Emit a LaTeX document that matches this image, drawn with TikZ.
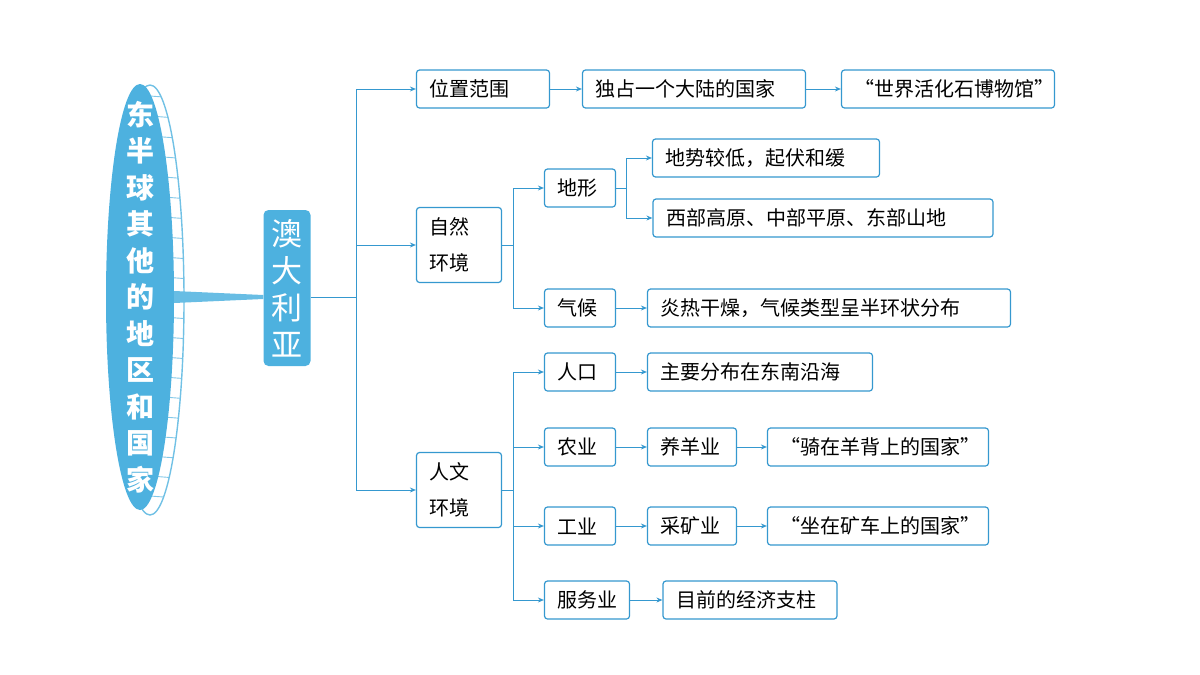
\documentclass[tikz,border=0pt]{standalone}
\usepackage{fontspec}
\setmainfont{Noto Sans CJK SC}
\usetikzlibrary{arrows.meta,positioning,calc,shapes.geometric}
\definecolor{skyblue}{HTML}{4DB1DF}
\definecolor{lineblue}{HTML}{3598CF}
\begin{document}
\begin{tikzpicture}[
    x=1pt, y=-1pt,
    box/.style={draw=lineblue, line width=1.2pt, rounded corners=3pt, fill=white, font=\fontsize{20}{24}\selectfont, align=left, inner xsep=13pt, inner ysep=0pt, minimum height=38pt, text width=#1-26pt},
    tallbox/.style={box=#1, minimum height=75pt, font=\fontsize{20}{36}\selectfont},
    link/.style={draw=lineblue, line width=0.9pt, -{Stealth[length=6pt,width=5pt]}},
    trunk/.style={draw=lineblue, line width=0.9pt},
    >=Stealth
]
    \useasboundingbox (0,0) rectangle (1200,675);

    % Left title ellipse
    \begin{scope}
      \clip (150,300) ellipse [x radius=34, y radius=215];
      \fill[white] (100,80) rectangle (200,520);
      \foreach \yy in {96,116,...,520} \draw[skyblue!70, line width=0.9pt] (150,\yy) -- (190,\yy+3);
    \end{scope}
    \draw[skyblue!80, line width=1.4pt] (150,300) ellipse [x radius=34, y radius=215];
    \node[ellipse, fill=skyblue, minimum width=68pt, minimum height=426pt, inner sep=0pt] (title) at (140,297) {};
    \node[text=white, font=\fontsize{28}{36.5}\selectfont\bfseries, align=center] at (title.center)
      {东\\半\\球\\其\\他\\的\\地\\区\\和\\国\\家};

    % Australia
    \node[fill=skyblue, rounded corners=5pt, minimum width=47pt, minimum height=156pt, inner sep=0pt,
          text=white, font=\fontsize{31}{37}\selectfont, align=center] (aus) at (287,288) {澳\\大\\利\\亚};
    \fill[skyblue!85] (title.east |- 0,291) -- (aus.west |- 0,295) -- (aus.west |- 0,299) -- (title.east |- 0,303) -- cycle;

    % Level 1
    \node[box=133pt] (pos) at (483,89) {位置范围};
    \node[tallbox=85pt] (nat) at (459,245) {自然\\环境};
    \node[tallbox=85pt] (hum) at (459,490) {人文\\环境};

    % Position
    \node[box=223pt] (cont) at (694,89) {独占一个大陆的国家};
    \node[box=213pt] (fossil) at (948,89) {“世界活化石博物馆”};

    % Nature
    \node[box=71pt] (terr) at (580,188) {地形};
    \node[box=71pt] (clim) at (580,308) {气候};
    \node[box=227pt] (low) at (766,158) {地势较低，起伏和缓};
    \node[box=340pt] (west) at (823,218) {西部高原、中部平原、东部山地};
    \node[box=363pt] (dry) at (829,308) {炎热干燥，气候类型呈半环状分布};

    % Human
    \node[box=71pt] (pop) at (580,372) {人口};
    \node[box=71pt] (agr) at (580,447) {农业};
    \node[box=71pt] (ind) at (580,526) {工业};
    \node[box=85pt] (srv) at (587,600) {服务业};
    \node[box=225pt] (coast) at (760,372) {主要分布在东南沿海};
    \node[box=89pt] (sheep) at (692,447) {养羊业};
    \node[box=221pt] (ride) at (878,447) {“骑在羊背上的国家”};
    \node[box=89pt] (mine) at (692,526) {采矿业};
    \node[box=221pt] (cart) at (878,526) {“坐在矿车上的国家”};
    \node[box=174pt] (pill) at (750,600) {目前的经济支柱};

    % Branch points
    \coordinate (j0) at (356,297);
    \coordinate (j1) at (513,245);
    \coordinate (j2) at (513,490);
    \coordinate (j3) at (626,188);

    % Edges
    \draw[trunk] (aus.east |- j0) -- (j0);
    \draw[link] (j0) |- (pos.west);
    \draw[link] (j0) |- (nat.west);
    \draw[link] (j0) |- (hum.west);
    \draw[link] (pos) -- (cont);
    \draw[link] (cont) -- (fossil);

    \draw[trunk] (nat.east) -- (j1);
    \draw[link] (j1) |- (terr.west);
    \draw[link] (j1) |- (clim.west);
    \draw[trunk] (terr.east) -- (j3);
    \draw[link] (j3) |- (low.west);
    \draw[link] (j3) |- (west.west);
    \draw[link] (clim) -- (dry);

    \draw[trunk] (hum.east) -- (j2);
    \draw[link] (j2) |- (pop.west);
    \draw[link] (j2) |- (agr.west);
    \draw[link] (j2) |- (ind.west);
    \draw[link] (j2) |- (srv.west);
    \draw[link] (pop) -- (coast);
    \draw[link] (agr) -- (sheep);
    \draw[link] (sheep) -- (ride);
    \draw[link] (ind) -- (mine);
    \draw[link] (mine) -- (cart);
    \draw[link] (srv) -- (pill);
\end{tikzpicture}
\end{document}
